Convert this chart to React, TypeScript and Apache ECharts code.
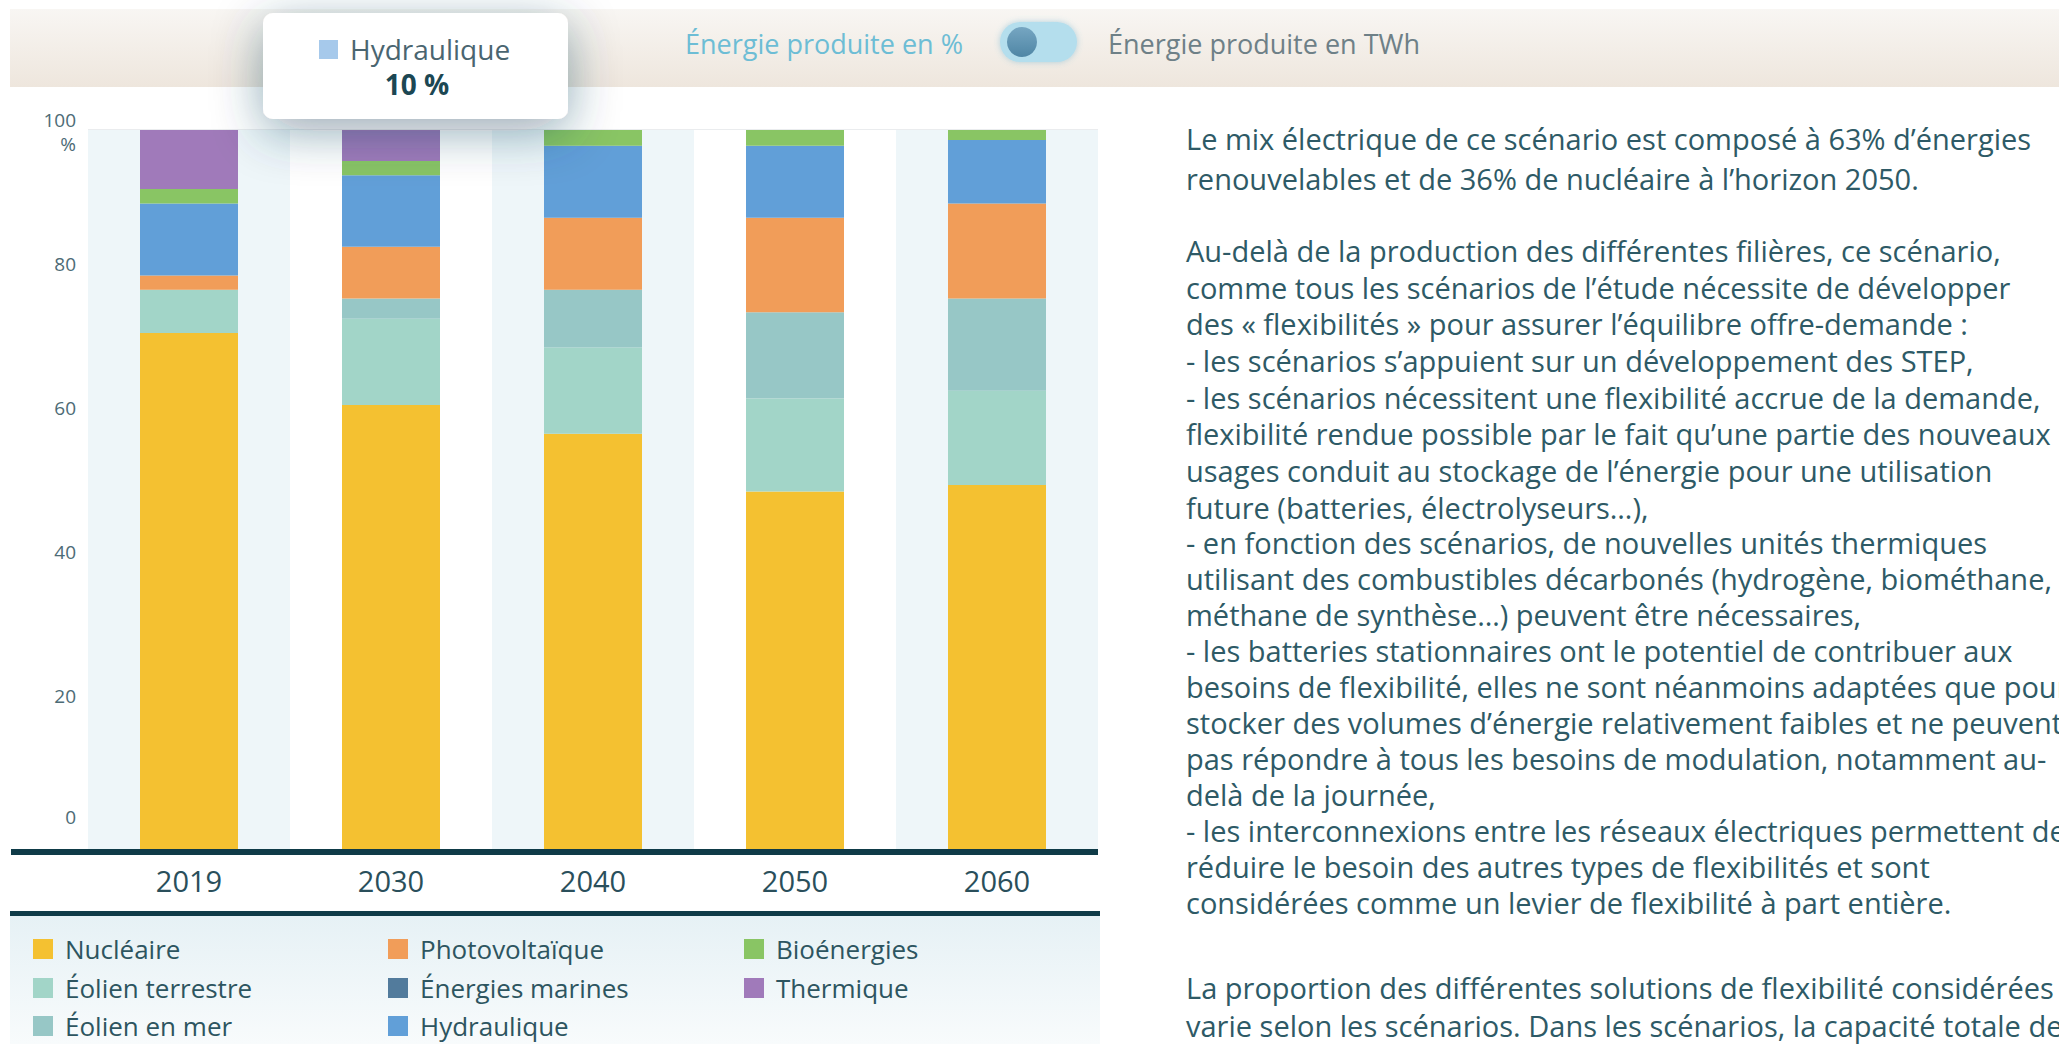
import React, { useEffect, useRef } from 'react';
import * as echarts from 'echarts';

// ---------- DATA ----------
const years = ['2019', '2030', '2040', '2050', '2060'];
const nucleaire = [71.8, 61.8, 57.8, 49.8, 50.7];
const eolienTerrestre = [6.0, 12.0, 12.0, 12.9, 13.1];
const eolienMer = [0, 2.8, 8.0, 12.0, 12.8];
const photovoltaique = [2.0, 7.2, 10.0, 13.1, 13.2];
const energiesMarines = [0, 0, 0, 0, 0];
const hydraulique = [10.0, 9.9, 10.0, 10.0, 8.8];
const bioenergies = [2.0, 2.0, 2.2, 2.2, 1.4];
const thermique = [8.2, 4.3, 0, 0, 0];

const seriesNames = [
  'Nucléaire',
  'Éolien terrestre',
  'Éolien en mer',
  'Photovoltaïque',
  'Énergies marines',
  'Hydraulique',
  'Bioénergies',
  'Thermique',
];
const seriesData = [
  nucleaire,
  eolienTerrestre,
  eolienMer,
  photovoltaique,
  energiesMarines,
  hydraulique,
  bioenergies,
  thermique,
];
const seriesColors = [
  '#f4c131',
  '#a2d5c8',
  '#97c7c6',
  '#f19d59',
  '#527b9c',
  '#619fd8',
  '#89c564',
  '#a07aba',
];
// legend grid: [column, row] of each series
const legendColumn = [0, 0, 0, 1, 1, 1, 2, 2];
const legendRow = [0, 1, 2, 0, 1, 2, 0, 1];

const yMin = 0;
const yMax = 100;
const yStep = 20;

const toggleLeftLabel = 'Énergie produite en %';
const toggleRightLabel = 'Énergie produite en TWh';
const tooltipSeries = 5; // Hydraulique
const tooltipCategory = 1; // 2030

const paragraphLines = [
  'Le mix électrique de ce scénario est composé à 63% d’énergies',
  'renouvelables et de 36% de nucléaire à l’horizon 2050.',
  'Au-delà de la production des différentes filières, ce scénario,',
  'comme tous les scénarios de l’étude nécessite de développer',
  'des « flexibilités » pour assurer l’équilibre offre-demande :',
  '- les scénarios s’appuient sur un développement des STEP,',
  '- les scénarios nécessitent une flexibilité accrue de la demande,',
  'flexibilité rendue possible par le fait qu’une partie des nouveaux',
  'usages conduit au stockage de l’énergie pour une utilisation',
  'future (batteries, électrolyseurs…),',
  '- en fonction des scénarios, de nouvelles unités thermiques',
  'utilisant des combustibles décarbonés (hydrogène, biométhane,',
  'méthane de synthèse…) peuvent être nécessaires,',
  '- les batteries stationnaires ont le potentiel de contribuer aux',
  'besoins de flexibilité, elles ne sont néanmoins adaptées que pour',
  'stocker des volumes d’énergie relativement faibles et ne peuvent',
  'pas répondre à tous les besoins de modulation, notamment au-',
  'delà de la journée,',
  '- les interconnexions entre les réseaux électriques permettent de',
  'réduire le besoin des autres types de flexibilités et sont',
  'considérées comme un levier de flexibilité à part entière.',
  'La proportion des différentes solutions de flexibilité considérées',
  'varie selon les scénarios. Dans les scénarios, la capacité totale de',
];

// ---------- LAYOUT / STYLE ----------
const FONT = "'Open Sans', 'Noto Sans', sans-serif";
const W = 2059;
const H = 1044;
const paragraphY = [138, 178, 250, 287, 323, 360, 397, 433, 470, 507, 542, 578, 614, 650, 686, 722, 758, 794, 830, 866, 902, 987, 1025];
const legendLeft = [33, 388, 744];
const legendTop = [936, 975, 1013];

function buildOption() {
  const series = seriesNames.map((name, i) => ({
    name,
    type: 'bar',
    stack: 'mix',
    barWidth: 98,
    data: seriesData[i],
    itemStyle: { color: seriesColors[i] },
    emphasis: { disabled: true },
  }));

  const legend = seriesNames.map((name, i) => ({
    orient: 'horizontal',
    left: legendLeft[legendColumn[i]],
    top: legendTop[legendRow[i]],
    padding: 0,
    itemWidth: 20,
    itemHeight: 20,
    icon: 'rect',
    selectedMode: false,
    data: [name],
    textStyle: {
      color: '#2d5560',
      fontSize: 26,
      fontFamily: FONT,
      padding: [0, 0, 0, 7],
    },
  }));

  const tipValue = `${Math.round(seriesData[tooltipSeries][tooltipCategory])} %`;

  const graphic: any[] = [
    // header band
    {
      type: 'rect',
      z: 0,
      shape: { x: 10, y: 9, width: W - 10, height: 78 },
      style: {
        fill: new echarts.graphic.LinearGradient(0, 0, 0, 1, [
          { offset: 0, color: '#f8f6f3' },
          { offset: 1, color: '#eee6dd' },
        ]),
      },
    },
    // toggle labels
    {
      type: 'text',
      z: 5,
      x: 685,
      y: 43,
      style: { text: toggleLeftLabel, fill: '#6dbdd5', fontSize: 27, fontFamily: FONT, align: 'left', verticalAlign: 'middle' },
    },
    {
      type: 'text',
      z: 5,
      x: 1108,
      y: 43,
      style: { text: toggleRightLabel, fill: '#6e8087', fontSize: 27, fontFamily: FONT, align: 'left', verticalAlign: 'middle' },
    },
    // toggle pill
    {
      type: 'rect',
      z: 5,
      shape: { x: 1000, y: 22, width: 77, height: 40, r: 20 },
      style: { fill: '#b4deed', shadowBlur: 6, shadowColor: 'rgba(90,170,205,0.45)' },
    },
    {
      type: 'circle',
      z: 6,
      shape: { cx: 1022, cy: 42, r: 15 },
      style: {
        fill: new echarts.graphic.LinearGradient(0, 0, 0, 1, [
          { offset: 0, color: '#76a6c2' },
          { offset: 1, color: '#4f86a5' },
        ]),
      },
    },
    // legend background
    {
      type: 'rect',
      z: 0,
      shape: { x: 10, y: 916, width: 1090, height: H - 916 },
      style: {
        fill: new echarts.graphic.LinearGradient(0, 0, 0, 1, [
          { offset: 0, color: '#e6f1f5' },
          { offset: 1, color: '#f8fbfc' },
        ]),
      },
    },
    // dark axis line
    {
      type: 'rect',
      z: 50,
      shape: { x: 11, y: 849, width: 1087, height: 6 },
      style: { fill: '#0f3b48' },
    },
    // dark separator above legend
    {
      type: 'rect',
      z: 50,
      shape: { x: 10, y: 911, width: 1090, height: 5 },
      style: { fill: '#0f3b48' },
    },
    // percent unit under "100"
    {
      type: 'text',
      z: 5,
      x: 76,
      y: 144,
      style: { text: '%', fill: '#4d6b76', fontSize: 19, fontFamily: FONT, align: 'right', verticalAlign: 'middle' },
    },
    // tooltip box
    {
      type: 'rect',
      z: 100,
      shape: { x: 263, y: 13, width: 305, height: 106, r: 10 },
      style: { fill: '#ffffff', shadowBlur: 50, shadowOffsetY: 12, shadowColor: 'rgba(30,65,90,0.45)' },
    },
    {
      type: 'rect',
      z: 101,
      shape: { x: 319, y: 40, width: 19, height: 19 },
      style: { fill: '#a6c9eb' },
    },
    {
      type: 'text',
      z: 101,
      x: 350,
      y: 49,
      style: { text: seriesNames[tooltipSeries], fill: '#4a6570', fontSize: 28, fontFamily: FONT, align: 'left', verticalAlign: 'middle' },
    },
    {
      type: 'text',
      z: 101,
      x: 417,
      y: 84,
      style: { text: tipValue, fill: '#1c4753', fontSize: 28, fontWeight: 'bold', fontFamily: FONT, align: 'center', verticalAlign: 'middle' },
    },
  ];

  paragraphLines.forEach((line, i) => {
    graphic.push({
      type: 'text',
      z: 5,
      x: 1186,
      y: paragraphY[i],
      style: { text: line, fill: '#2e5a66', fontSize: 29, fontFamily: FONT, align: 'left', verticalAlign: 'middle' },
    });
  });

  return {
    animation: false,
    backgroundColor: '#ffffff',
    textStyle: { fontFamily: FONT },
    grid: { left: 88, top: 130, width: 1010, height: 720, containLabel: false },
    xAxis: {
      type: 'category',
      data: years,
      axisLine: { show: false },
      axisTick: { show: false },
      splitArea: { show: true, areaStyle: { color: ['#eef6f9', '#ffffff'] } },
      axisLabel: { margin: 15, color: '#2a4f5b', fontSize: 29, fontFamily: FONT, lineHeight: 30 },
    },
    yAxis: {
      type: 'value',
      min: yMin,
      max: yMax,
      interval: yStep,
      axisLine: { show: false },
      axisTick: { show: false },
      splitLine: { lineStyle: { color: '#e3e6e8', width: 1.5 } },
      axisLabel: {
        margin: 12,
        align: 'right',
        verticalAlign: 'bottom',
        color: '#4d6b76',
        fontSize: 19,
        fontFamily: FONT,
        formatter: (v: number) => (v === 0 ? `{z|${v}}` : `{n|${v}}`),
        rich: {
          n: { lineHeight: 20, fontSize: 19, color: '#4d6b76', fontFamily: FONT },
          z: { lineHeight: 66, fontSize: 19, color: '#4d6b76', fontFamily: FONT },
        },
      },
    },
    legend,
    series,
    graphic,
  };
}

export default function App() {
  const ref = useRef<HTMLDivElement>(null);
  useEffect(() => {
    if (!ref.current) return;
    const chart = echarts.init(ref.current, null, { renderer: 'svg' });
    chart.setOption(buildOption() as any);
    return () => chart.dispose();
  }, []);
  return (
    <div
      ref={ref}
      style={{ position: 'fixed', left: 0, top: 0, width: W, height: H, background: '#ffffff' }}
    />
  );
}
